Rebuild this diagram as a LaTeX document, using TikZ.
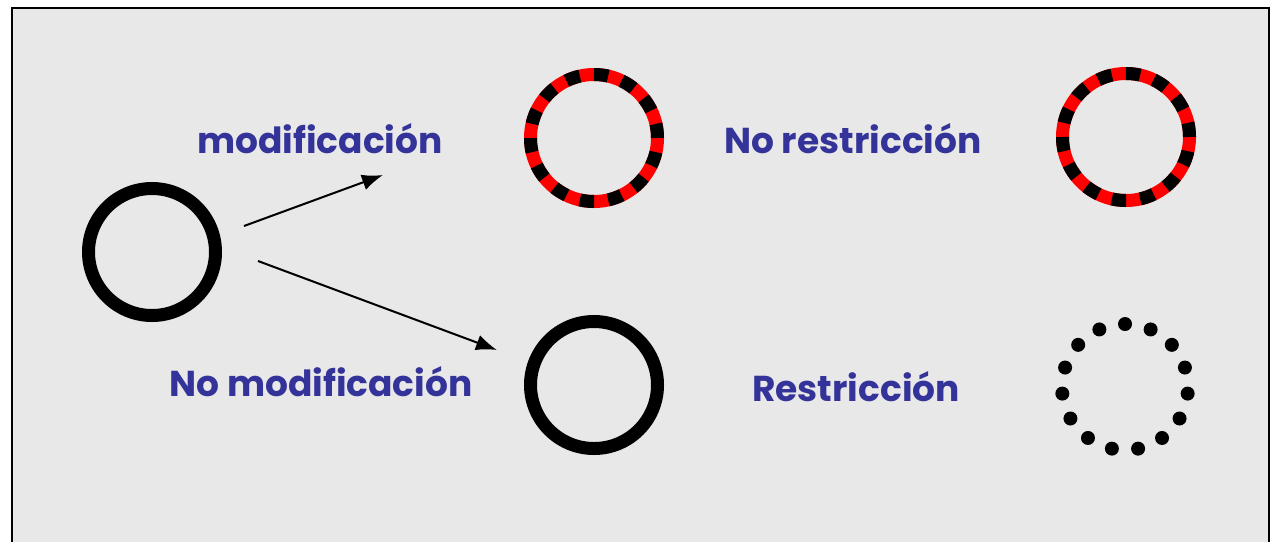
\documentclass[tikz,border=0pt]{standalone}
\usepackage{fontspec}
\setmainfont{Poppins}
\usetikzlibrary{arrows.meta}
\definecolor{labelblue}{RGB}{51,51,153}
\definecolor{paper}{RGB}{232,232,232}
\definecolor{ringred}{RGB}{255,0,0}

\begin{document}
\begin{tikzpicture}[x=1pt,y=-1pt,
    lbl/.style={font=\bfseries\fontsize{36}{42}\selectfont, text=labelblue, inner sep=0pt, anchor=base},
    ring/.style={line width=13pt},
    pointer/.style={line width=2pt, -{Latex[length=21pt,width=16pt]}}]
    \useasboundingbox (0,0) rectangle (1277,542);
    % paper and frame
    \fill[paper] (12,8) rectangle (1269,542);
    \draw[line width=2pt] (12,542) -- (12,8) -- (1269,8) -- (1269,542);

    % circles
    \draw[ring, black] (152,252) circle(63.5pt);
    \draw[ring, ringred] (594,138) circle(63.5pt);
    \draw[ring, black, dash pattern=on 14.25pt off 14.25pt] (594,138) circle(63.5pt);
    \draw[ring, ringred] (1126,137) circle(63.5pt);
    \draw[ring, black, dash pattern=on 14.25pt off 14.25pt] (1126,137) circle(63.5pt);
    \draw[ring, black] (594,385) circle(63.5pt);
    \coordinate (dotc) at (1125,387);
    \foreach \a in {0,...,14}
        \fill[black, shift={(dotc)}] (90+24*\a:63pt) circle(7pt);

    % labels
    \node[lbl] (mod) at (320,153) {modificación};
    \node[lbl] (nores) at (853,153) {No restricción};
    \node[lbl] (nomod) at (321,396) {No modificación};
    \node[lbl] (res) at (856,401) {Restricción};

    % arrows
    \coordinate (modfrom) at (244,226);
    \coordinate (modto) at (383,175);
    \coordinate (nomodfrom) at (258,261);
    \coordinate (nomodto) at (497,350);
    \draw[pointer] (modfrom) -- (modto);
    \draw[pointer] (nomodfrom) -- (nomodto);
\end{tikzpicture}
\end{document}
